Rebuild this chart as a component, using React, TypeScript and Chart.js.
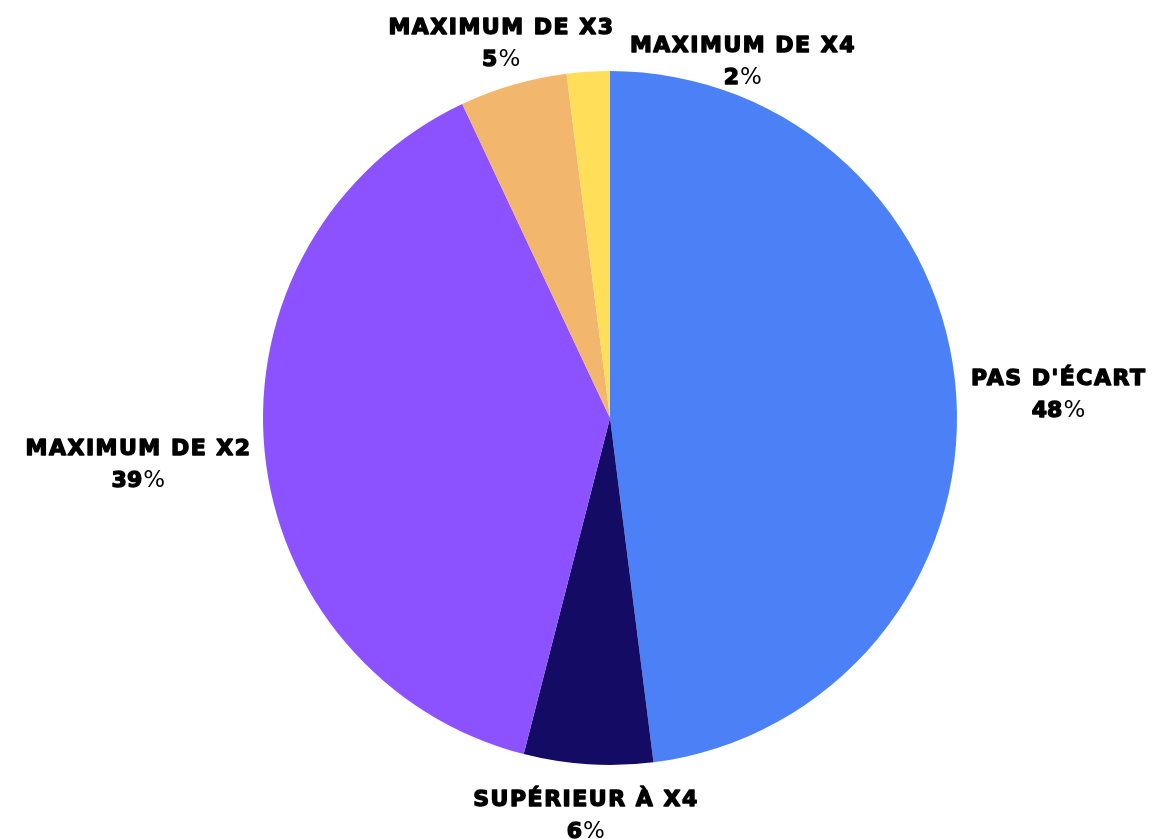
import React, { useEffect, useRef } from "react";
import { Chart, registerables } from "chart.js";

Chart.register(...registerables);

const categories = ["Pas d'écart", "Supérieur à X4", "Maximum de X2", "Maximum de X3", "Maximum de X4"];
const labelTexts = ["PAS D'ÉCART", "SUPÉRIEUR À X4", "MAXIMUM DE X2", "MAXIMUM DE X3", "MAXIMUM DE X4"];
const values = [48, 6, 39, 5, 2];
const colors = ["#4b80f6", "#140c64", "#8c52ff", "#f2b76c", "#ffde59"];

// label layout tweaks (collision avoidance), indexed like categories
const labelNudgeX = [0, 5, 0, 23, 162];
const labelNudgeY = [0, 11, 10, -3, 29];

const TITLE_FONT = "bold 22px 'DejaVu Sans'";
const PCT_FONT = "normal 23px 'DejaVu Sans'";
const TITLE_SPACING = "1.5px";

const outerLabels = {
  id: "outerLabels",
  afterDatasetsDraw(chart: any) {
    const ctx = chart.ctx as CanvasRenderingContext2D;
    const meta = chart.getDatasetMeta(0);
    const off = 15;
    meta.data.forEach((arc: any, i: number) => {
      const p = arc.getProps(["x", "y", "startAngle", "endAngle", "outerRadius"], true);
      const mid = (p.startAngle + p.endAngle) / 2;
      const cos = Math.cos(mid);
      const sin = Math.sin(mid);
      ctx.save();
      ctx.fillStyle = "#000000";
      ctx.strokeStyle = "#000000";
      ctx.lineJoin = "round";
      ctx.textBaseline = "alphabetic";
      ctx.textAlign = "left";
      ctx.font = TITLE_FONT;
      (ctx as any).letterSpacing = TITLE_SPACING;
      const title = labelTexts[i];
      const wTitle = ctx.measureText(title).width - 1.5;
      (ctx as any).letterSpacing = "0px";
      const num = String(values[i]);
      const wNum = ctx.measureText(num).width;
      ctx.font = PCT_FONT;
      const wPct = ctx.measureText("%").width;
      const w = Math.max(wTitle, wNum + wPct);
      const h = 50;
      const px = p.x + (p.outerRadius + off) * cos;
      const py = p.y + (p.outerRadius + off) * sin;
      const left = px + (cos * w) / 2 - w / 2 + labelNudgeX[i];
      const top = py + (sin * h) / 2 - h / 2 + labelNudgeY[i];
      const cx = left + w / 2;
      const base1 = top + 16;
      const base2 = top + 48;
      ctx.font = TITLE_FONT;
      (ctx as any).letterSpacing = TITLE_SPACING;
      ctx.lineWidth = 1.4;
      ctx.fillText(title, cx - wTitle / 2, base1);
      ctx.strokeText(title, cx - wTitle / 2, base1);
      (ctx as any).letterSpacing = "0px";
      const x2 = cx - (wNum + wPct) / 2;
      ctx.fillText(num, x2, base2);
      ctx.strokeText(num, x2, base2);
      ctx.font = PCT_FONT;
      ctx.fillText("%", x2 + wNum + 1, base2);
      ctx.restore();
    });
  },
};

export default function App() {
  const ref = useRef<HTMLCanvasElement | null>(null);
  useEffect(() => {
    if (!ref.current) return;
    const chart = new Chart(ref.current, {
      type: "pie",
      data: {
        labels: categories,
        datasets: [
          {
            data: values,
            backgroundColor: colors,
            borderWidth: 0,
          },
        ],
      },
      options: {
        responsive: false,
        animation: false,
        layout: { padding: { left: 263, right: 196, top: 71, bottom: 74 } },
        plugins: {
          legend: { display: false },
          tooltip: { enabled: false },
        },
      },
      plugins: [outerLabels],
    });
    return () => chart.destroy();
  }, []);
  return (
    <div style={{ position: "fixed", left: 0, top: 0, width: 1153, height: 839, background: "#ffffff" }}>
      <canvas ref={ref} width={1153} height={839} />
    </div>
  );
}
